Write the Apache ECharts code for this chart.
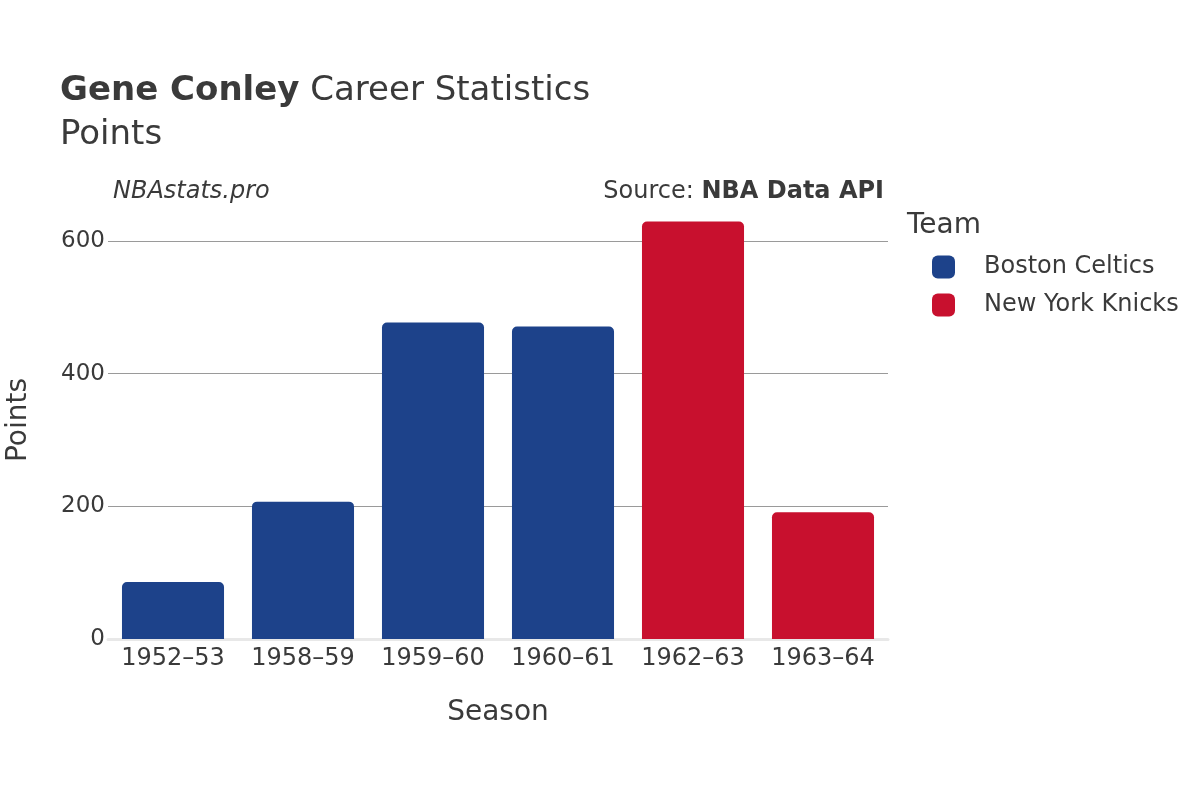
<!DOCTYPE html>
<html lang="en" style="height: 100%">
<head>
    <meta charset="utf-8">
</head>
<body style="height: 100%; margin: 0">
<div id="main" style="width: 1200px; height: 800px"></div>

<script type="text/javascript" src="https://cdn.jsdelivr.net/npm/echarts@6/dist/echarts.min.js"></script>

<script type="text/javascript">
    var seasons = ['1952–53', '1958–59', '1959–60', '1960–61', '1962–63', '1963–64'];
    var celticsPoints = [86, 207, 477, 471, '-', '-'];
    var knicksPoints = ['-', '-', '-', '-', 629, 191];
    var yTicks = [0, 200, 400, 600];

    var FONT = 'DejaVu Sans';
    var TEXT = '#3a3a3a';

    var chartDom = document.getElementById('main');
    var myChart = echarts.init(chartDom);
    var option;

    option = {
        animation: false,
        textStyle: { fontFamily: FONT },
        title: {
            left: 60,
            top: 69,
            padding: 0,
            text: '{b|Gene Conley} Career Statistics\nPoints',
            textStyle: {
                fontFamily: FONT,
                fontSize: 34,
                fontWeight: 'normal',
                color: TEXT,
                lineHeight: 44,
                rich: {
                    b: { fontFamily: FONT, fontSize: 34, fontWeight: 'bold', color: TEXT, lineHeight: 44 }
                }
            }
        },
        graphic: [
            {
                type: 'text', left: 113, top: 180,
                style: { text: 'NBAstats.pro', font: 'italic 24px "DejaVu Sans"', fill: TEXT }
            },
            {
                type: 'text', right: 316, top: 180,
                style: {
                    text: '{n|Source: }{b|NBA Data API}',
                    rich: {
                        n: { fontFamily: FONT, fontSize: 24, fill: TEXT, color: TEXT },
                        b: { fontFamily: FONT, fontSize: 24, fontWeight: 'bold', fill: TEXT, color: TEXT }
                    }
                }
            },
            {
                type: 'text', left: 907, top: 212,
                style: { text: 'Team', font: '28px "DejaVu Sans"', fill: TEXT }
            }
        ],
        legend: {
            orient: 'vertical',
            left: 927,
            top: 250,
            itemWidth: 23,
            itemHeight: 23,
            itemGap: 14,
            padding: 5,
            icon: 'roundRect',
            textStyle: { fontFamily: FONT, fontSize: 24, color: TEXT, padding: [0, 0, 0, 24] },
            data: ['Boston Celtics', 'New York Knicks']
        },
        grid: { left: 108, right: 312, top: 201, bottom: 161, containLabel: false, outerBoundsMode: 'none' },
        xAxis: {
            type: 'category',
            data: seasons,
            name: 'Season',
            nameLocation: 'middle',
            nameGap: 60,
            nameTextStyle: { fontFamily: FONT, fontSize: 28, color: TEXT },
            axisLine: { show: true, lineStyle: { color: '#e8e8e8', width: 3 } },
            axisTick: { show: false },
            axisLabel: { fontFamily: FONT, fontSize: 24, color: TEXT, margin: 8, interval: 0, hideOverlap: false }
        },
        yAxis: {
            type: 'value',
            min: 0,
            max: 660,
            interval: 200,
            name: 'Points',
            nameLocation: 'middle',
            nameGap: 75,
            nameTextStyle: { fontFamily: FONT, fontSize: 28, color: TEXT },
            axisLine: { show: false },
            axisTick: { show: false },
            axisLabel: {
                fontFamily: FONT, fontSize: 23, color: TEXT, margin: 3,
                padding: [5, 0, 0, 0],
                showMaxLabel: false,
                formatter: function (v) { return yTicks.indexOf(v) >= 0 ? String(v) : ''; }
            },
            splitLine: { show: true, showMinLine: false, showMaxLine: false, lineStyle: { color: '#9a9a9a', width: 1 } }
        },
        series: [
            {
                name: 'Boston Celtics',
                type: 'bar',
                stack: 'team',
                barCategoryGap: '21.5%',
                itemStyle: { color: '#1d428a', borderRadius: [5, 5, 0, 0] },
                data: celticsPoints
            },
            {
                name: 'New York Knicks',
                type: 'bar',
                stack: 'team',
                barCategoryGap: '21.5%',
                itemStyle: { color: '#c8102e', borderRadius: [5, 5, 0, 0] },
                data: knicksPoints
            }
        ]
    };

    option && myChart.setOption(option);
</script>
</body>
</html>
